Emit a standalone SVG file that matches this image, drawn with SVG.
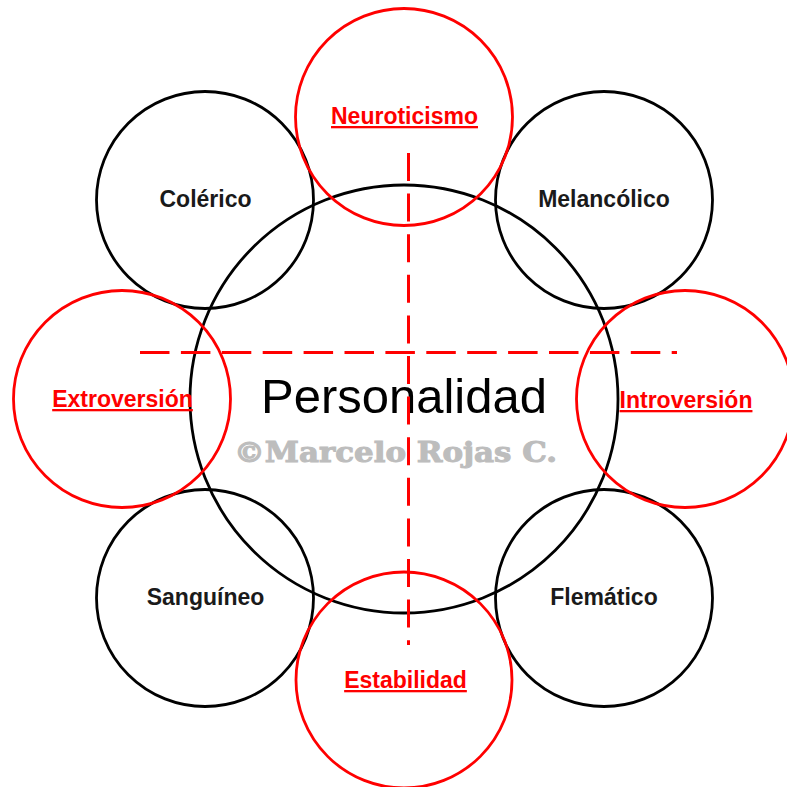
<svg xmlns="http://www.w3.org/2000/svg" width="787" height="787" viewBox="0 0 787 787">
<style>
.bk{fill:none;stroke:#000;stroke-width:2.8}
.rd{fill:none;stroke:#ff0000;stroke-width:2.8}
.lb{font-family:"Liberation Sans",Arial,sans-serif;font-weight:bold;font-size:23px;text-anchor:middle;fill:#1a1a1a}
.rl{font-family:"Liberation Sans",Arial,sans-serif;font-weight:bold;font-size:23px;text-anchor:middle;fill:#ff0000;text-decoration:underline}
.ax{stroke:#ff0000;stroke-width:3;fill:none}
</style>
<rect width="787" height="787" fill="#fff"/>
<g id="personalidad">
<circle class="bk" cx="404" cy="399" r="214"/>
<text x="404" y="413" font-family="Liberation Sans,Arial,sans-serif" font-size="49" text-anchor="middle" fill="#000">Personalidad</text>
<text x="234" y="462" font-family="DejaVu Serif,Liberation Serif,serif" font-weight="bold" font-size="27" fill="#bdbdbd" stroke="#bdbdbd" stroke-width="1" textLength="323" lengthAdjust="spacingAndGlyphs">©Marcelo Rojas C.</text>
</g>
<g id="colerico"><circle class="bk" cx="205" cy="200" r="108.5"/><text class="lb" x="205.5" y="207">Colérico</text></g>
<g id="melancolico"><circle class="bk" cx="604" cy="200" r="108.5"/><text class="lb" x="604" y="207">Melancólico</text></g>
<g id="sanguineo"><circle class="bk" cx="205" cy="598" r="108.5"/><text class="lb" x="205.5" y="605">Sanguíneo</text></g>
<g id="flematico"><circle class="bk" cx="604" cy="598" r="108.5"/><text class="lb" x="604" y="605">Flemático</text></g>
<g id="neuroticismo"><circle class="rd" cx="404" cy="117" r="108.5"/><text class="rl" x="404.5" y="124">Neuroticismo</text></g>
<g id="estabilidad"><circle class="rd" cx="404" cy="680" r="108"/><text class="rl" x="405.5" y="688">Estabilidad</text></g>
<g id="extroversion"><circle class="rd" cx="122" cy="399" r="108.5"/><text class="rl" x="122.5" y="407">Extroversión</text></g>
<g id="introversion"><circle class="rd" cx="685" cy="399" r="108.5"/><text class="rl" x="686" y="408">Introversión</text></g>
<g id="connectors">
<line class="ax" x1="140" y1="352.5" x2="677" y2="352.5" stroke-dasharray="29.5 11.4"/>
<line class="ax" x1="408.5" y1="153" x2="408.5" y2="645" stroke-dasharray="28 12.6"/>
</g>
</svg>
